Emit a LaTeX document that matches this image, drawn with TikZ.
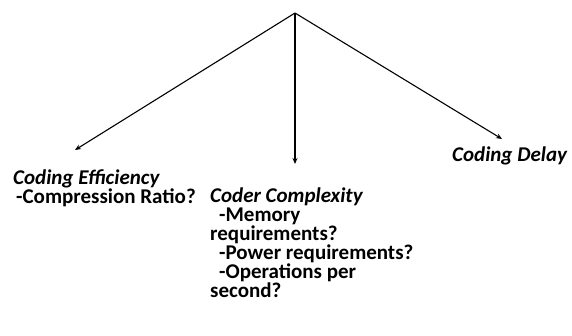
\documentclass[tikz,border=0pt]{standalone}
\usepackage{fontspec}
\setmainfont{Carlito}
\usetikzlibrary{arrows.meta,positioning}
\tikzset{
	crittext/.style={anchor=base west, inner sep=0pt, font=\bfseries\fontsize{21}{19}\selectfont, align=left},
	critarr/.style={-{Stealth[length=6pt,width=5pt]}, line width=1.1pt}
}

\begin{document}
\begin{tikzpicture}[x=1pt, y=-1pt]
			\useasboundingbox (0,0) rectangle (572,336);
			\coordinate (top) at (295,13);
			% base anchor is on the last line
			\node[crittext] (eff) at (13,204) {\textit{Coding Efficiency}\\\hspace{3pt}-Compression Ratio?};
			\node[crittext] (cplx) at (210,298) {\textit{Coder Complexity}\\\hspace{9pt}-Memory\\requirements?\\\hspace{9pt}-Power requirements?\\\hspace{9pt}-Operations per\\second?};
			\node[crittext] (delay) at (452,162) {\textit{Coding Delay}};
			\coordinate (efftip) at (75,150);
			\coordinate (cplxtip) at (295,164);
			\coordinate (delaytip) at (502,139);
			\draw[critarr] (top)--(efftip);
			\draw[critarr] (top)--(cplxtip);
			\draw[critarr] (top)--(delaytip);
		\end{tikzpicture}
\end{document}
